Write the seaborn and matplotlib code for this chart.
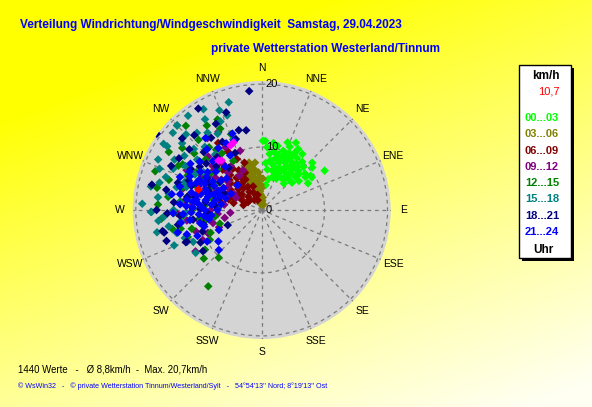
import numpy as np
import pandas as pd
import matplotlib
matplotlib.use('Agg')
import matplotlib.pyplot as plt
import seaborn as sns
from matplotlib.patches import Rectangle

pts_00_03 = [(20, 8), (25, 8.5), (30, 8), (28, 7.5), (22, 9), (15, 8.5), (35, 8), (32, 9), (18, 7), (26, 6.8),
             (38, 7.5), (40, 8.5), (12, 9.5), (10, 8), (8, 9), (5, 10), (3, 11), (14, 10.5), (20, 10), (24, 11),
             (27, 12), (30, 10.5), (34, 10), (36, 11), (40, 10), (44, 9.5), (47, 11), (50, 9), (55, 9.5), (58, 11.8),
             (57, 9.5), (45, 7.5), (42, 6.5), (35, 6), (30, 6), (25, 5.5), (18, 5.5), (12, 5), (9, 4), (40, 5.5),
             (48, 6.5), (52, 7.5), (33, 7), (23, 7.2), (17, 9.2), (29, 9.5), (37, 9.2), (43, 8.5), (21, 11.5), (8, 6.5),
             (5, 7.5), (15, 6.5), (31, 11.3), (26, 10), (60, 8.5), (50, 10.5), (1, 11), (19, 8.6), (27, 9.2),
             (33, 8.3), (39, 9), (13, 7.5), (22, 6.2), (46, 8.2), (53, 8.7), (10, 10.8), (36, 6.8), (24, 9.8)]
pts_03_06 = [(350, 1), (355, 1.5), (345, 2), (352, 2.5), (340, 3), (348, 3.5), (355, 3), (342, 4), (350, 4.5),
             (338, 5), (346, 5.5), (353, 5), (336, 6), (343, 6.5), (350, 6.5), (340, 7), (347, 7.3), (355, 6),
             (358, 4), (2, 5), (5, 2), (10, 1), (0, 3.5), (344, 3), (337, 4.5), (333, 5.5), (341, 5.5), (349, 2),
             (356, 2.5), (15, 0.8), (352, 7.6), (345, 7.8), (339, 7.5), (2, 1.5), (330, 6.5), (348, 6),
             (343, 4.8), (351, 3.8), (357, 5.2)]
pts_06_09 = [(318, 5.7), (303, 5.9), (329, 4.3), (335, 3), (338, 1.7), (302, 3.9), (284, 4.6), (330, 7.3),
             (316, 8.9), (327, 12.7), (330, 10.7), (325, 8), (310, 6.5), (320, 4.5), (312, 5), (295, 5), (290, 6),
             (300, 7), (307, 8), (322, 6.5), (332, 5.5), (340, 4), (326, 3.5), (315, 3), (305, 4.5), (297, 3.5),
             (288, 5.5), (280, 6.5), (292, 7.5), (313, 7), (320, 9.5), (334, 9), (340, 8), (324, 2), (310, 2.5),
             (300, 2.5), (345, 2.5), (336, 6.5), (318, 7.5), (285, 3), (323, 5.2), (308, 4), (328, 6)]
pts_09_12 = [(288, 6.8), (304, 6.5), (310, 9.9), (270, 8.1), (247, 9.3), (248, 7.3), (265, 5), (331, 14.2),
             (323, 14.3), (238, 12.4), (246, 9.2), (280, 9), (285, 10.5), (295, 8), (300, 11), (315, 12), (320, 10),
             (325, 8.5), (330, 11.5), (290, 12), (275, 11), (260, 10), (255, 8), (265, 7), (278, 6), (295, 6),
             (300, 5), (310, 7), (315, 5.5), (305, 9), (282, 7.5), (272, 9.5), (262, 12), (285, 13), (298, 13.5),
             (308, 12.5), (318, 8), (327, 6.5), (335, 7), (340, 10), (292, 9.5), (276, 12.5), (268, 13.5), (252, 11),
             (243, 10.5), (258, 6), (296, 4.5), (312, 10.5), (288, 8.5), (302, 10)]
pts_12_15 = [(327, 16), (334, 16), (315, 19), (302, 17.4), (215, 14.8), (222, 10.2), (246, 8.9), (257, 13.2),
             (273, 16.5), (265, 16), (280, 12), (285, 10), (290, 11), (295, 13), (300, 12), (305, 10), (310, 14),
             (320, 13), (325, 11), (330, 9), (275, 9), (270, 11), (262, 10), (255, 11.5), (250, 12.5), (268, 14),
             (278, 15), (288, 15.5), (298, 15), (308, 16), (318, 15), (283, 8), (293, 9), (303, 8), (313, 9.5),
             (323, 12), (272, 7), (262, 7.5), (252, 7), (240, 9.5), (235, 11), (230, 12), (286, 13), (296, 10.5),
             (276, 13), (266, 12.5), (258, 14.5), (312, 12), (318, 18), (300, 14.5), (282, 17), (290, 18), (260, 9),
             (338, 13), (333, 14.5)]
pts_15_18 = [(343, 17.9), (337, 17.2), (340, 16), (315, 19), (304, 18.8), (311, 18.7), (338, 12.1), (269, 17.5),
             (277, 16.6), (266, 15.6), (289, 16.1), (304, 18.1), (296, 18.3), (269, 17.6), (264, 16.5), (237, 12.5),
             (280, 15), (285, 14), (290, 13), (295, 15.5), (300, 16), (305, 15), (310, 16.5), (315, 17), (320, 16),
             (325, 15), (330, 14), (335, 15.5), (275, 13), (270, 14), (260, 15), (255, 14), (250, 13), (245, 12),
             (282, 18), (292, 17.5), (300, 14), (308, 13), (318, 13.5), (328, 17), (273, 19), (285, 16.8), (262, 13),
             (248, 15), (292, 11), (298, 12), (312, 14.5), (322, 19), (330, 18.5), (278, 11.5), (268, 12), (258, 17),
             (303, 11), (287, 12.5), (320, 11.5)]
pts_18_21 = [(354, 19), (328, 19), (306, 20.6), (344, 13.2), (349, 12.9), (283, 17.9), (257, 15.9), (247, 13.1),
             (246, 5.9), (258, 16.1), (252, 15.9), (247, 12.9), (235, 11.4), (270, 16.7), (275, 14), (280, 12),
             (285, 10), (290, 9), (295, 11), (300, 13), (305, 12), (310, 15), (315, 13), (320, 11), (325, 14),
             (330, 12.5), (335, 10), (340, 12), (278, 9), (272, 11), (266, 13), (262, 11), (256, 9.5), (250, 10),
             (288, 14), (296, 16), (302, 15.5), (312, 17), (318, 16), (286, 7), (276, 7.5), (266, 8.5), (294, 6.5),
             (304, 8), (314, 10), (282, 15.5), (292, 12.5), (268, 15), (260, 13.5), (242, 11), (300, 10),
             (310, 11.5), (322, 8.5), (332, 15.5), (340, 16.5), (281, 10.8), (289, 11.8), (297, 9.2), (271, 9.8)]
pts_21_24 = [(268, 14.1), (261, 13), (227, 9.3), (255, 13.8), (252, 12.5), (339, 13), (338, 11.8), (270, 9),
             (275, 10), (280, 9), (285, 10), (290, 9.5), (295, 10), (300, 9), (272, 11), (278, 12), (284, 11.5),
             (290, 12), (296, 11), (302, 11.5), (276, 8), (282, 7.5), (288, 8), (294, 7.5), (300, 7), (306, 8),
             (266, 10), (262, 11.5), (258, 10), (264, 8), (270, 7), (310, 9.5), (315, 11), (320, 9), (325, 12),
             (330, 10), (308, 12.5), (312, 7.5), (318, 13), (274, 13), (286, 13.5), (298, 13), (280, 14.5),
             (292, 14), (260, 8.5), (254, 9.5), (248, 11), (240, 10), (234, 8.5), (288, 6), (278, 6.5), (298, 5.5),
             (305, 10.5), (283, 10.5), (273, 12), (293, 11.2), (267, 12.5), (287, 9), (277, 11), (297, 8.5),
             (303, 13.5), (322, 14.5), (332, 12), (245, 7.5), (316, 5.5), (279, 10.5), (284, 8.8), (291, 10.7),
             (273, 9.6), (268, 11.2), (295, 12.6), (281, 13.2), (264, 9.2), (301, 10.2), (289, 7)]
pts_highlight = [(337, 11.7), (319, 10.5), (334, 11.5), (321, 10.2)]
mean_dir, mean_speed = 288, 10.7

classes = ['00...03', '03...06', '06...09', '09...12', '12...15', '15...18', '18...21', '21...24']
class_points = [pts_00_03, pts_03_06, pts_06_09, pts_09_12, pts_12_15, pts_15_18, pts_18_21, pts_21_24]
colors = ['#00ff00', '#808000', '#800000', '#800080', '#008000', '#008080', '#000080', '#0000ff']
directions = ['N', 'NNE', 'NE', 'ENE', 'E', 'ESE', 'SE', 'SSE', 'S', 'SSW', 'SW', 'WSW', 'W', 'WNW', 'NW', 'NNW']

rows = []
for cls, pts in zip(classes, class_points):
    for d, v in pts:
        rows.append((cls, np.radians(d), v))
df = pd.DataFrame(rows, columns=['Zeit', 'theta', 'speed'])

plt.rcParams['font.family'] = ['Liberation Sans', 'DejaVu Sans']

fig = plt.figure(figsize=(5.92, 4.07), dpi=100)

# Hintergrund-Verlauf gelb -> hell
bg = fig.add_axes([0, 0, 1, 1], zorder=-2)
yy, xx = np.mgrid[0:1:200j, 0:1:300j]
t = np.clip(0.85 * yy + 0.45 * xx - 0.25, 0, 1) ** 0.9
img = np.dstack([np.ones_like(t), np.ones_like(t), 0.95 * t])
bg.imshow(img, aspect='auto', extent=[0, 1, 0, 1], origin='upper')
bg.axis('off')

ax = fig.add_axes([0.224, 0.167, 0.436, 0.634], projection='polar')
ax.set_theta_zero_location('N')
ax.set_theta_direction(-1)
ax.set_facecolor('#d4d4d4')
ax.spines['polar'].set_visible(False)

sns.scatterplot(data=df, x='theta', y='speed', hue='Zeit', palette=dict(zip(classes, colors)),
                marker='D', s=19, linewidth=0, legend=False, ax=ax, zorder=3)
ax.scatter(np.radians([p[0] for p in pts_highlight]), [p[1] for p in pts_highlight],
           marker='D', s=19, color='#ff00ff', linewidth=0, zorder=3)
ax.scatter([np.radians(mean_dir)], [mean_speed], marker='D', s=20, color='#ff0000', linewidth=0, zorder=4)

ax.set_ylim(0, 20.5)
ax.set_yticks([10, 20])
ax.set_yticklabels([])
ax.set_xticks(np.radians(np.arange(0, 360, 22.5)))
ax.set_xticklabels([])
ax.grid(True, color='#7a7a7a', linestyle=(0, (3, 3)), linewidth=0.9)
ax.set_xlabel('')
ax.set_ylabel('')

for i, name in enumerate(directions):
    ax.text(np.radians(i * 22.5), 22.6, name, ha='center', va='center', fontsize=7.5, clip_on=False)
for r in [0, 10, 20]:
    ax.annotate(str(r), xy=(0, r), xytext=(3, 0), textcoords='offset points',
                ha='left', va='center', fontsize=8, zorder=5)

# Titel
fig.text(20 / 592, 1 - 25 / 407, 'Verteilung Windrichtung/Windgeschwindigkeit  Samstag, 29.04.2023',
         color='#0000ff', fontsize=8.5, fontweight='bold', va='center', ha='left')
fig.text(211 / 592, 1 - 49 / 407, 'private Wetterstation Westerland/Tinnum',
         color='#0000ff', fontsize=8.5, fontweight='bold', va='center', ha='left')

# Legendenkasten
lx, ly, lw, lh = 519 / 592, 1 - 258 / 407, 52 / 592, 193 / 407
fig.patches.append(Rectangle((lx + 3 / 592, ly - 3 / 407), lw, lh, transform=fig.transFigure,
                             facecolor='black', edgecolor='none', zorder=1))
fig.patches.append(Rectangle((lx, ly), lw, lh, transform=fig.transFigure,
                             facecolor='white', edgecolor='black', linewidth=1, zorder=2))
fig.text(546 / 592, 1 - 76 / 407, 'km/h', fontsize=8.5, fontweight='bold', ha='center', va='center')
fig.text(560 / 592, 1 - 91 / 407, '10,7', fontsize=8, color='#ff0000', ha='right', va='center')
for i, (cls, c) in enumerate(zip(classes, colors)):
    fig.text(542 / 592, 1 - (118 + i * 16.3) / 407, cls, fontsize=8, fontweight='bold',
             color=c, ha='center', va='center')
fig.text(543 / 592, 1 - 250 / 407, 'Uhr', fontsize=8.5, fontweight='bold', ha='center', va='center')

# Fusszeilen
fig.text(18 / 592, 1 - 369 / 407, '1440 Werte   -   \u00d8 8,8km/h  -  Max. 20,7km/h',
         fontsize=6.9, ha='left', va='center')
fig.text(18 / 592, 1 - 386 / 407,
         '\u00a9 WsWin32   -   \u00a9 private Wetterstation Tinnum/Westerland/Sylt   -   '
         "54\u00b054'13'' Nord; 8\u00b019'13'' Ost",
         fontsize=5.1, color='#0000ff', ha='left', va='center')

fig.savefig('out.png', dpi=100)
